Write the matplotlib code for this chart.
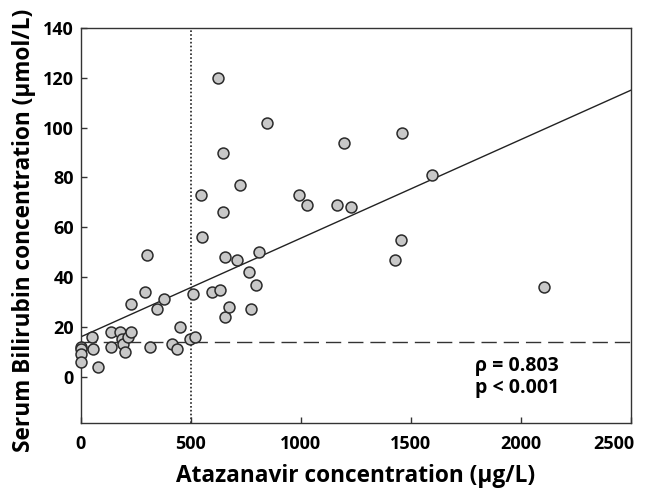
import matplotlib
matplotlib.use('Agg')
import matplotlib.pyplot as plt
import matplotlib.transforms as mtransforms
import numpy as np

######################### data #########################
# atazanavir concentration (ug/L)
atazanavir = [0, 0, 0, 0, 50, 55, 80, 135, 135, 180, 185, 192, 201, 215,
              226, 230, 290, 300, 315, 345, 380, 415, 438, 450, 495, 510,
              518, 544, 550, 598, 624, 633, 644, 647, 653, 655, 673, 710,
              723, 765, 774, 794, 810, 845, 992, 1030, 1165, 1197, 1230,
              1429, 1455, 1462, 1594, 2105]
# serum bilirubin concentration (umol/L)
bilirubin = [12, 11, 9, 6, 16, 11, 4, 18, 12, 18, 15, 13, 10, 16,
             18, 29, 34, 49, 12, 27, 31, 13, 11, 20, 15, 33,
             16, 73, 56, 34, 120, 35, 66, 90, 24, 48, 28, 47,
             77, 42, 27, 37, 50, 102, 73, 69, 69, 94, 68,
             47, 55, 98, 81, 36]

# regression line and reference lines
fitIntercept = 16.0
fitSlope = 0.0396
upperLimit = 14
cutoff = 500
statText = "\u03c1 = 0.803\np < 0.001"
###########################################################################

plt.rcParams['font.family'] = ['Open Sans', 'DejaVu Sans']
plt.rcParams['font.weight'] = 'bold'

fig = plt.figure(figsize=(6.47, 4.91), dpi=100)
ax = fig.add_axes([0.125, 0.139, 0.85, 0.804])

# regression line over the full x range
xfit = np.array([0, 2500])
ax.plot(xfit, fitIntercept + fitSlope * xfit, color='#222222', linewidth=1.0,
        zorder=2)

# upper limit of normal and cutoff concentration
ax.axhline(upperLimit, color='#333333', linewidth=1.0, dashes=(11, 5),
           zorder=1)
ax.axvline(cutoff, color='#222222', linewidth=1.2, linestyle=(0, (1, 1.3)),
           zorder=1)

ax.scatter(atazanavir, bilirubin, s=62, facecolor='#c8c8c8',
           edgecolor='#2a2a2a', linewidth=1.1, zorder=3, clip_on=False)

ax.text(1790, 0, statText, fontsize=14, fontweight='bold', ha='left',
        va='center', linespacing=1.15)

ax.set_xlim(0, 2500)
ax.set_ylim(-18.5, 140)
ax.set_xticks([0, 500, 1000, 1500, 2000, 2500])
ax.set_yticks([0, 20, 40, 60, 80, 100, 120, 140])

ax.tick_params(direction='in', length=4, width=1.0, labelsize=13,
               color='#333333')
ax.tick_params(axis='x', pad=9)
ax.tick_params(axis='y', pad=5)
for label in ax.get_xticklabels() + ax.get_yticklabels():
    label.set_fontweight('bold')
for spine in ax.spines.values():
    spine.set_linewidth(1.0)
    spine.set_color('#333333')

# last x label sits a bit left of its tick, as in the original
lastLabel = ax.xaxis.get_major_ticks()[-1].label1
lastLabel.set_transform(lastLabel.get_transform() +
                        mtransforms.ScaledTranslation(-12 / 72, 0,
                                                      fig.dpi_scale_trans))

ax.set_xlabel('Atazanavir concentration (\u03bcg/L)', fontsize=16.3,
              fontweight='bold', labelpad=8)
ax.set_ylabel('Serum Bilirubin concentration (\u03bcmol/L)', fontsize=16.3,
              fontweight='bold')
ax.yaxis.set_label_coords(-0.082, 0.487)

plt.savefig('out.png', dpi=100)
plt.close()
